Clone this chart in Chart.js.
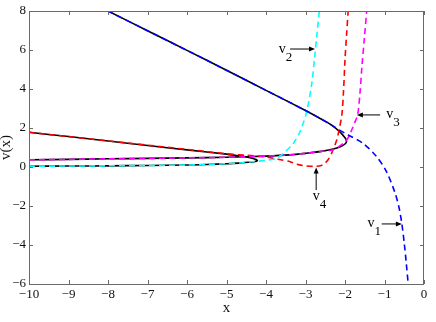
<!DOCTYPE html>
<html>
<head>
<meta charset="utf-8">
<script src="https://cdn.jsdelivr.net/npm/chart.js@4.4.0/dist/chart.umd.min.js"></script>
<style>
  html, body { margin: 0; padding: 0; background: #fff; }
  #c { display: block; }
</style>
</head>
<body>
<canvas id="c" width="436" height="322"></canvas>
<script>
// solid black solution branches
const lowerFoldX = [-10, -9, -8, -7, -6, -5.5, -5, -4.7, -4.45, -4.3, -4.22, -4.25, -4.35, -4.5, -4.7, -5, -6, -7, -8, -9, -10];
const lowerFoldY = [0.04, 0.05, 0.06, 0.08, 0.1, 0.13, 0.17, 0.2, 0.24, 0.27, 0.32, 0.38, 0.45, 0.52, 0.57, 0.66, 0.88, 1.1, 1.33, 1.56, 1.78];
const upperFoldX = [-10, -9, -8, -7, -6, -5, -4, -3.4, -3, -2.6, -2.3, -2.12, -2.0, -1.96, -2.0, -2.13, -2.34, -2.63, -3, -4, -5, -6, -7, -8];
const upperFoldY = [0.37, 0.39, 0.42, 0.44, 0.47, 0.5, 0.56, 0.62, 0.7, 0.8, 0.92, 1.04, 1.18, 1.32, 1.5, 1.8, 2.15, 2.49, 2.9, 3.93, 4.96, 5.98, 6.99, 8.0];

// dashed approximations v1..v4
const v1X = [-8, -7, -6, -5, -4, -3, -2.63, -2.34, -2.13, -1.92, -1.54, -1.2, -0.95, -0.73, -0.63, -0.56, -0.5, -0.45, -0.4];
const v1Y = [8.0, 6.99, 5.98, 4.96, 3.93, 2.9, 2.49, 2.15, 1.88, 1.64, 1.21, 0.53, -0.24, -1.35, -2.1, -2.92, -3.9, -4.9, -6.0];
const v2X = [-10, -9, -8, -7, -6, -5.5, -5, -4.6, -4.3, -4.0, -3.73, -3.52, -3.31, -3.14, -2.97, -2.84, -2.77, -2.71, -2.65];
const v2Y = [0.04, 0.05, 0.06, 0.08, 0.1, 0.13, 0.17, 0.22, 0.28, 0.34, 0.44, 0.78, 1.21, 1.81, 2.84, 4.3, 5.6, 6.8, 8.0];
const v3X = [-10, -9, -8, -7, -6, -5, -4, -3.4, -3, -2.6, -2.3, -2.04, -1.92, -1.83, -1.75, -1.68, -1.62, -1.57, -1.51, -1.45];
const v3Y = [0.37, 0.39, 0.42, 0.44, 0.47, 0.5, 0.56, 0.62, 0.7, 0.8, 0.89, 1.21, 1.5, 1.9, 2.3, 2.67, 3.8, 5.2, 6.6, 8.0];
const v4X = [-10, -9, -8, -7, -6, -5, -4.5, -4.07, -3.7, -3.39, -3.22, -3.0, -2.76, -2.6, -2.51, -2.42, -2.34, -2.21, -2.14, -2.08, -2.04, -2.0, -1.96, -1.92];
const v4Y = [1.78, 1.56, 1.34, 1.12, 0.9, 0.68, 0.6, 0.53, 0.4, 0.27, 0.14, 0.06, 0.03, 0.08, 0.19, 0.4, 0.7, 1.38, 2.0, 2.67, 3.8, 5.5, 6.8, 8.0];

const xTicks = [-10, -9, -8, -7, -6, -5, -4, -3, -2, -1, 0];
const yTicks = [-6, -4, -2, 0, 2, 4, 6, 8];

// arrow labels: subscript, label anchor, arrow tail -> head (data units)
const arrowSubs = ['1', '2', '3', '4'];
const arrowText = [[-1.34, -3.08], [-3.59, 5.85], [-0.87, 2.51], [-2.73, -1.69]];
const arrowFrom = [[-1.07, -2.92], [-3.39, 6.05], [-1.11, 2.67], [-2.73, -1.18]];
const arrowTo = [[-0.56, -2.92], [-2.76, 6.05], [-1.70, 2.67], [-2.73, -0.02]];

const serif = "'Liberation Serif', 'DejaVu Serif', serif";

function pts(xs, ys) {
  return xs.map((x, i) => ({ x: x, y: ys[i] }));
}

function dashed(xs, ys, color) {
  return {
    data: pts(xs, ys),
    borderColor: color,
    borderWidth: 1.6,
    borderDash: [6, 4],
    order: 0,
  };
}

function solid(xs, ys) {
  return {
    data: pts(xs, ys),
    borderColor: '#000000',
    borderWidth: 1.6,
    order: 1,
  };
}

const minus = (v) => (v < 0 ? '\u2212' + Math.abs(v) : String(v));

const frame = {
  id: 'frame',
  afterDraw(chart) {
    const { ctx, chartArea: a, scales } = chart;
    const x = scales.x;
    const y = scales.y;
    ctx.save();
    ctx.strokeStyle = '#6a6a6a';
    ctx.lineWidth = 1;
    ctx.strokeRect(a.left + 0.5, a.top + 0.5, a.right - a.left - 1, a.bottom - a.top);
    ctx.beginPath();
    for (const t of xTicks) {
      const px = Math.round(x.getPixelForValue(t)) + 0.5;
      ctx.moveTo(px, a.bottom);
      ctx.lineTo(px, a.bottom - 4);
      ctx.moveTo(px, a.top);
      ctx.lineTo(px, a.top + 4);
    }
    for (const t of yTicks) {
      const py = Math.round(y.getPixelForValue(t)) + 0.5;
      ctx.moveTo(a.left, py);
      ctx.lineTo(a.left + 4, py);
      ctx.moveTo(a.right, py);
      ctx.lineTo(a.right - 4, py);
    }
    ctx.stroke();

    // arrows and v_i labels
    ctx.strokeStyle = '#000';
    ctx.fillStyle = '#000';
    for (let i = 0; i < arrowSubs.length; i++) {
      const x0 = x.getPixelForValue(arrowFrom[i][0]);
      const y0 = y.getPixelForValue(arrowFrom[i][1]);
      const x1 = x.getPixelForValue(arrowTo[i][0]);
      const y1 = y.getPixelForValue(arrowTo[i][1]);
      const ang = Math.atan2(y1 - y0, x1 - x0);
      ctx.beginPath();
      ctx.moveTo(x0, y0);
      ctx.lineTo(x1 - 4 * Math.cos(ang), y1 - 4 * Math.sin(ang));
      ctx.stroke();
      ctx.beginPath();
      ctx.moveTo(x1, y1);
      ctx.lineTo(x1 - 6 * Math.cos(ang) + 2.5 * Math.sin(ang), y1 - 6 * Math.sin(ang) - 2.5 * Math.cos(ang));
      ctx.lineTo(x1 - 6 * Math.cos(ang) - 2.5 * Math.sin(ang), y1 - 6 * Math.sin(ang) + 2.5 * Math.cos(ang));
      ctx.closePath();
      ctx.fill();

      const tx = x.getPixelForValue(arrowText[i][0]);
      const ty = y.getPixelForValue(arrowText[i][1]);
      ctx.font = '14px ' + serif;
      ctx.textAlign = 'center';
      ctx.textBaseline = 'alphabetic';
      ctx.fillText('v', tx, ty);
      const w = ctx.measureText('v').width;
      ctx.font = '13px ' + serif;
      ctx.textAlign = 'left';
      ctx.fillText(arrowSubs[i], tx + w / 2, ty + 8);
    }
    ctx.restore();
  },
};

new Chart(document.getElementById('c'), {
  type: 'scatter',
  data: {
    datasets: [
      dashed(v1X, v1Y, '#0000ff'),
      dashed(v2X, v2Y, '#00ffff'),
      dashed(v3X, v3Y, '#ff00ff'),
      dashed(v4X, v4Y, '#ff0000'),
      solid(lowerFoldX, lowerFoldY),
      solid(upperFoldX, upperFoldY),
    ],
  },
  options: {
    responsive: false,
    animation: false,
    devicePixelRatio: 1,
    showLine: true,
    elements: {
      point: { radius: 0, hoverRadius: 0 },
      line: { tension: 0.3, fill: false },
    },
    layout: { padding: { top: 11, right: 12, left: 0, bottom: 0 } },
    plugins: {
      legend: { display: false },
      tooltip: { enabled: false },
    },
    scales: {
      x: {
        type: 'linear',
        min: -10,
        max: 0,
        afterBuildTicks: (s) => { s.ticks = xTicks.map((v) => ({ value: v })); },
        afterFit: (s) => { s.height = 38; },
        ticks: {
          color: '#111',
          padding: 3,
          maxRotation: 0,
          font: { family: serif, size: 13 },
          callback: (v) => minus(v),
        },
        grid: { display: false, drawTicks: false },
        border: { display: false },
        title: {
          display: true,
          text: 'x',
          color: '#111',
          font: { family: serif, size: 15 },
          padding: { top: 0, bottom: 5 },
        },
      },
      y: {
        type: 'linear',
        min: -6,
        max: 8,
        afterBuildTicks: (s) => { s.ticks = yTicks.map((v) => ({ value: v })); },
        afterFit: (s) => { s.width = 29; },
        ticks: {
          color: '#111',
          padding: 3,
          font: { family: serif, size: 13 },
          callback: (v) => minus(v),
        },
        grid: { display: false, drawTicks: false },
        border: { display: false },
        title: {
          display: true,
          text: 'v(x)',
          color: '#111',
          font: { family: serif, size: 15, lineHeight: 0.8 },
          padding: { top: 0, bottom: 0 },
        },
      },
    },
  },
  plugins: [frame],
});
</script>
</body>
</html>
